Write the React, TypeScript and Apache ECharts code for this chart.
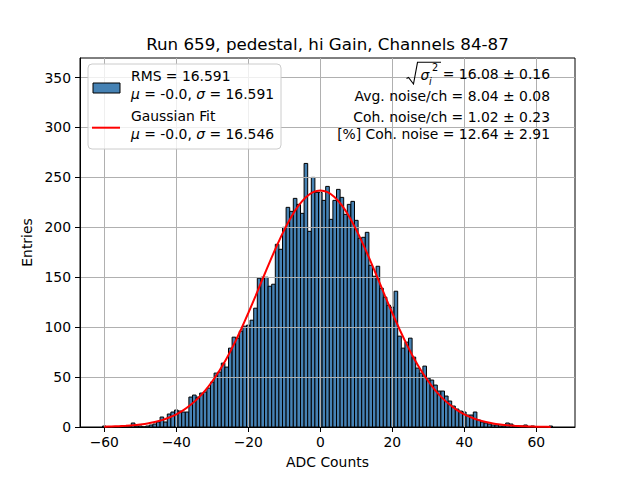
import React, { useEffect, useRef } from 'react';
import * as echarts from 'echarts';

const TITLE = 'Run 659, pedestal, hi Gain, Channels 84-87';
const X_NAME = 'ADC Counts';
const Y_NAME = 'Entries';

// histogram: one bin per ADC count, first bin centred at -60
const FIRST_BIN_CENTER = -60;
const BIN_WIDTH = 1;
const COUNTS: number[] = [
  1, 0, 0, 0, 0, 1, 0, 0, 4, 1,
  1, 0, 1, 2, 3, 5, 10, 5, 13, 15,
  17, 16, 15, 15, 30, 32, 30, 34, 35, 39,
  45, 54, 55, 64, 60, 79, 90, 89, 96, 101,
  102, 107, 119, 149, 150, 150, 141, 143, 183, 178,
  200, 220, 216, 229, 223, 214, 264, 196, 250, 235,
  235, 227, 241, 208, 227, 238, 230, 213, 223, 226,
  207, 189, 190, 195, 162, 151, 161, 139, 130, 122,
  120, 136, 91, 79, 85, 89, 70, 59, 54, 61,
  49, 47, 42, 36, 36, 31, 26, 21, 18, 16,
  15, 12, 12, 15, 7, 5, 4, 3, 2, 2,
  1, 1, 4, 3, 1, 1, 1, 2, 0, 1,
  0, 0, 0, 0, 1,
];

// Gaussian fit curve
const FIT_X = [
  -60, -58, -56, -54, -52, -50, -48, -46, -44, -42, -40, -38, -36, -34, -32, -30,
  -28, -26, -24, -22, -20, -18, -16, -14, -12, -10, -8, -6, -4, -2, 0,
  2, 4, 6, 8, 10, 12, 14, 16, 18, 20, 22, 24, 26, 28, 30, 32,
  34, 36, 38, 40, 42, 44, 46, 48, 50, 52, 54, 56, 58, 60, 62, 64,
];
const FIT_Y = [
  0.3, 0.5, 0.8, 1.2, 1.7, 2.5, 3.5, 5.0, 6.9, 9.5, 12.7, 16.9, 22.2, 28.7, 36.5, 45.8,
  56.6, 68.9, 82.8, 97.9, 114.2, 131.1, 148.5, 165.7, 182.2, 197.4, 210.9, 221.9, 230.2, 235.3, 237.0,
  235.3, 230.2, 221.9, 210.9, 197.4, 182.2, 165.7, 148.5, 131.1, 114.2, 97.9, 82.8, 68.9, 56.6, 45.8, 36.5,
  28.7, 22.2, 16.9, 12.7, 9.5, 6.9, 5.0, 3.5, 2.5, 1.7, 1.2, 0.8, 0.5, 0.3, 0.2, 0.1,
];

const X_TICKS = [-60, -40, -20, 0, 20, 40, 60];
const Y_TICKS = [0, 50, 100, 150, 200, 250, 300, 350];
const X_MIN = -66.75;
const X_MAX = 70.75;
const Y_MIN = 0;
const Y_MAX = 369.6;

const LEGEND_HIST = ['RMS = 16.591', 'μ = -0.0, σ = 16.591'];
const LEGEND_FIT = ['Gaussian Fit', 'μ = -0.0, σ = 16.546'];
const NOISE_SQRT = '= 16.08 ± 0.16';
const NOISE_LINES = [
  'Avg. noise/ch = 8.04 ± 0.08',
  'Coh. noise/ch = 1.02 ± 0.23',
  '[%] Coh. noise = 12.64 ± 2.91',
];

const FAMILY = 'DejaVu Sans';
const FS = 13.9;
const BAR_COLOR = '#4682b4';

const italicGreek = (s: string) => s.replace(/([μσ])/g, '{i|$1}');

export default function App() {
  const ref = useRef<HTMLDivElement>(null);

  useEffect(() => {
    const el = ref.current;
    if (!el) return;
    const chart = echarts.init(el, undefined, { renderer: 'svg' });

    const histData = COUNTS.map((c, i) => [FIRST_BIN_CENTER + i * BIN_WIDTH, c]);
    const fitData = FIT_X.map((x, i) => [x, FIT_Y[i]]);

    const txt = (text: string, x: number, y: number, align: string, extra: any = {}) => ({
      type: 'text',
      x,
      y,
      z: 100,
      silent: true,
      style: {
        text,
        fill: '#000',
        fontSize: FS,
        fontFamily: FAMILY,
        align,
        verticalAlign: 'middle',
        rich: { i: { fontStyle: 'italic', fontSize: FS, fontFamily: FAMILY, fill: '#000' } },
        ...extra,
      },
    });

    const option: any = {
      animation: false,
      backgroundColor: '#fff',
      grid: {
        left: 80,
        right: 65,
        top: 58,
        bottom: 53,
        show: true,
        borderColor: '#000',
        borderWidth: 1,
        backgroundColor: 'transparent',
        containLabel: false,
        outerBoundsMode: 'none',
      },
      xAxis: {
        type: 'value',
        min: X_MIN,
        max: X_MAX,
        z: 3,
        name: X_NAME,
        nameLocation: 'middle',
        nameGap: 28,
        nameTextStyle: { fontSize: FS, fontFamily: FAMILY, color: '#000' },
        axisLine: { show: true, onZero: false, lineStyle: { color: '#000', width: 1 } },
        axisTick: { show: true, inside: false, length: 5, customValues: X_TICKS, lineStyle: { color: '#000', width: 1 } },
        axisLabel: {
          customValues: X_TICKS,
          margin: 8,
          fontSize: FS,
          fontFamily: FAMILY,
          color: '#000',
          formatter: (v: number) => String(v).replace('-', '\u2212'),
        },
        splitLine: { show: true, lineStyle: { color: '#b0b0b0', width: 1 } },
      },
      yAxis: {
        type: 'value',
        min: Y_MIN,
        max: Y_MAX,
        z: 3,
        name: Y_NAME,
        nameLocation: 'middle',
        nameGap: 43,
        nameRotate: 90,
        nameTextStyle: { fontSize: FS, fontFamily: FAMILY, color: '#000' },
        axisLine: { show: true, onZero: false, lineStyle: { color: '#000', width: 1 } },
        axisTick: { show: true, inside: false, length: 5, customValues: Y_TICKS, lineStyle: { color: '#000', width: 1 } },
        axisLabel: {
          customValues: Y_TICKS,
          margin: 9,
          fontSize: FS,
          fontFamily: FAMILY,
          color: '#000',
        },
        splitLine: { show: true, lineStyle: { color: '#b0b0b0', width: 1 } },
      },
      series: [
        {
          type: 'custom',
          z: 2,
          clip: true,
          data: histData,
          encode: { x: 0, y: 1 },
          renderItem: (_params: any, api: any) => {
            const x = api.value(0);
            const y = api.value(1);
            const p0 = api.coord([x - BIN_WIDTH / 2, y]);
            const p1 = api.coord([x + BIN_WIDTH / 2, 0]);
            return {
              type: 'rect',
              shape: { x: p0[0], y: p0[1], width: p1[0] - p0[0], height: p1[1] - p0[1] },
              style: { fill: BAR_COLOR, stroke: '#000', lineWidth: 1 },
            };
          },
        },
        {
          type: 'line',
          z: 5,
          data: fitData,
          showSymbol: false,
          symbol: 'none',
          smooth: 0.2,
          lineStyle: { color: '#ff0000', width: 2 },
        },
      ],
      graphic: [
        // title
        txt(TITLE, 327.5, 44, 'center', { fontSize: 16.7 }),
        // legend frame
        {
          type: 'rect',
          z: 99,
          silent: true,
          shape: { x: 88, y: 64, width: 193, height: 85, r: 4 },
          style: { fill: 'rgba(255,255,255,0.8)', stroke: '#cccccc', lineWidth: 1 },
        },
        {
          type: 'rect',
          z: 100,
          silent: true,
          shape: { x: 93, y: 83, width: 27, height: 10 },
          style: { fill: BAR_COLOR, stroke: '#000', lineWidth: 1 },
        },
        {
          type: 'line',
          z: 100,
          silent: true,
          shape: { x1: 92, y1: 127.7, x2: 120, y2: 127.7 },
          style: { stroke: '#ff0000', lineWidth: 2 },
        },
        txt(italicGreek(LEGEND_HIST[0]), 131, 76, 'left'),
        txt(italicGreek(LEGEND_HIST[1]), 131, 93.5, 'left'),
        txt(italicGreek(LEGEND_FIT[0]), 131, 116, 'left'),
        txt(italicGreek(LEGEND_FIT[1]), 131, 134, 'left'),
        // noise annotations
        {
          type: 'polyline',
          z: 100,
          silent: true,
          shape: { points: [[406.5, 78.5], [408.5, 77.5], [413.5, 84], [417.5, 62.3], [441, 62.3]] },
          style: { stroke: '#000', lineWidth: 1.1, fill: 'none' },
        },
        txt('σ', 420.5, 75, 'left', { fontStyle: 'italic' }),
        txt('i', 429, 81, 'left', { fontStyle: 'italic', fontSize: 9.7 }),
        txt('2', 432, 67, 'left', { fontSize: 9.7 }),
        txt(NOISE_SQRT, 550, 73.5, 'right'),
        txt(NOISE_LINES[0], 550, 96, 'right'),
        txt(NOISE_LINES[1], 550, 116.5, 'right'),
        txt(NOISE_LINES[2], 550, 134, 'right'),
      ],
    };

    chart.setOption(option);
    return () => chart.dispose();
  }, []);

  return (
    <div
      ref={ref}
      style={{ position: 'fixed', left: 0, top: 0, width: 640, height: 480, background: '#fff' }}
    />
  );
}
